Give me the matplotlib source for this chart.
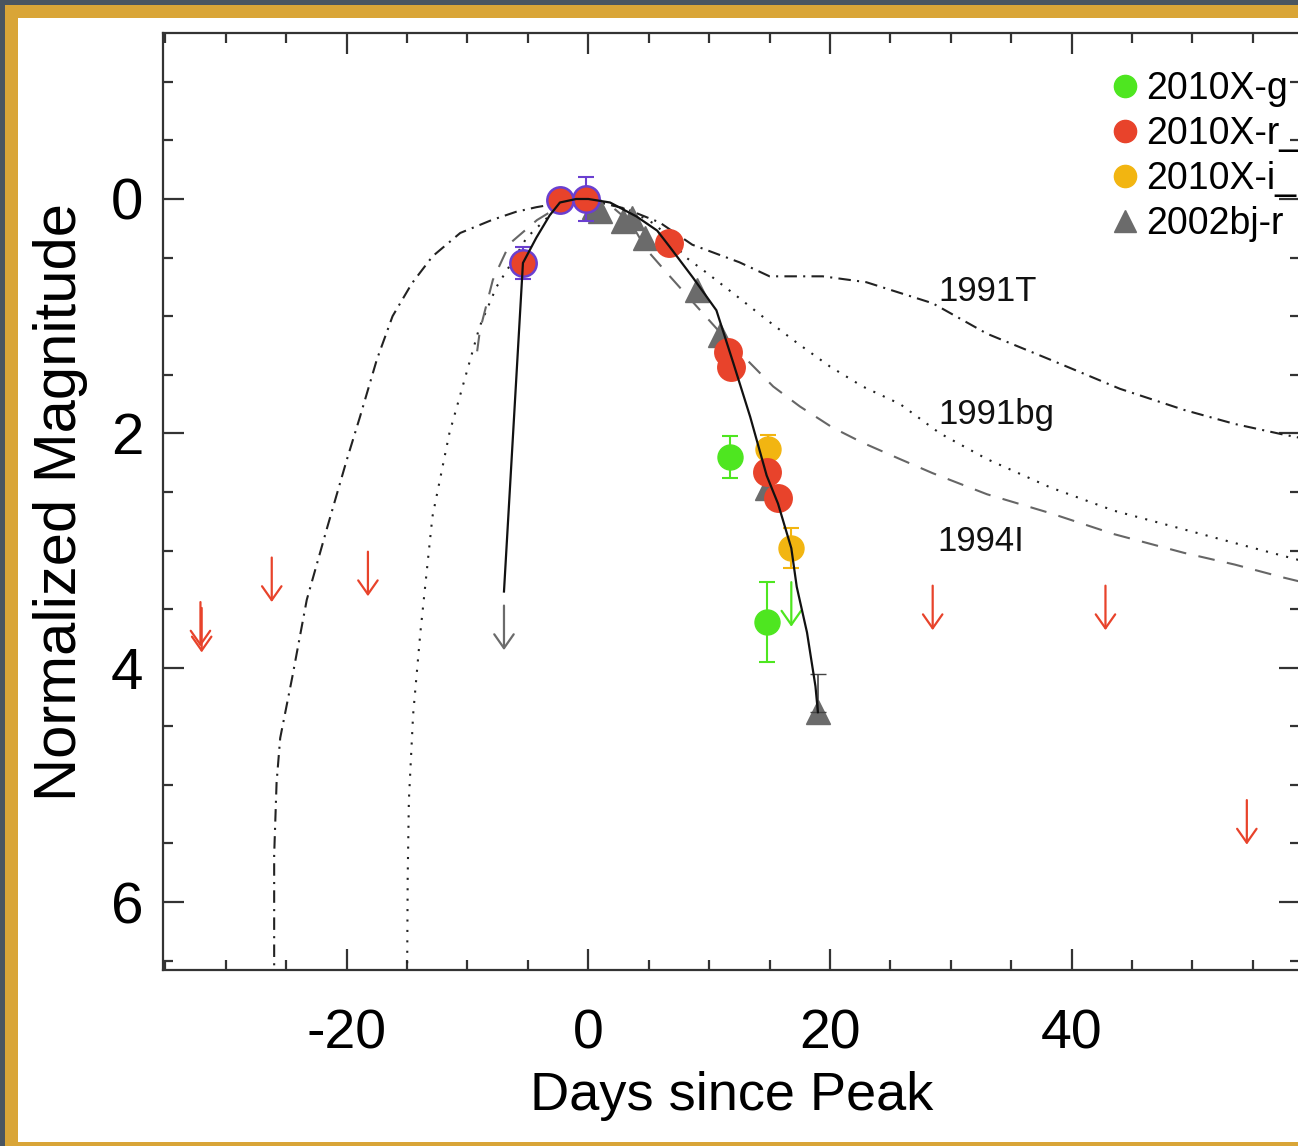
import matplotlib
matplotlib.use('Agg')
import matplotlib.pyplot as plt
from matplotlib.lines import Line2D
from matplotlib.patches import Rectangle
from matplotlib.ticker import MultipleLocator, FixedLocator

plt.rcParams['font.family'] = ['Liberation Sans', 'DejaVu Sans']
plt.rcParams['axes.unicode_minus'] = False

# ---------------- data ----------------
# 2010X g band
g_x = [11.7, 14.76]
g_y = [2.20, 3.61]
g_err = [0.18, 0.34]
# 2010X r band
r_x = [-5.41, -2.35, -0.2, 6.67, 11.55, 11.8, 14.76, 15.7]
r_y = [0.546, 0.01, 0.0, 0.375, 1.31, 1.43, 2.33, 2.55]
r_err = [0.14, 0.0, 0.19, 0.0, 0.0, 0.0, 0.0, 0.0]
r_edge = ['#6a3fd0', '#6a3fd0', '#6a3fd0', '#e8432b', '#e8432b', '#e8432b', '#e8432b', '#e8432b']
# 2010X i band
i_x = [14.85, 16.8]
i_y = [2.13, 2.98]
i_err = [0.12, 0.17]
# 2002bj r band
bj_x = [0.5, 1.0, 2.9, 3.6, 4.7, 9.0, 10.9, 14.8, 19.0]
bj_y = [0.07, 0.10, 0.19, 0.16, 0.33, 0.78, 1.16, 2.47, 4.38]
# upper limits (start magnitude of arrow)
r_lim_x = [-32.1, -32.0, -26.2, -18.24, 28.5, 42.8, 54.5]
r_lim_y = [3.44, 3.49, 3.06, 3.01, 3.30, 3.30, 5.13]
g_lim_x = [16.8]
g_lim_y = [3.27]
bj_lim_x = [-6.98]
bj_lim_y = [3.47]
# fitted 2002bj light curve (solid black)
fit_x = [-6.98, -5.41, -4.3, -3.2, -2.35, -1.0, 0.0, 1.8, 4.0, 5.7, 6.75, 8.65,
         10.6, 12.0, 13.4, 14.76, 15.7, 16.8, 17.25, 18.1, 18.8, 19.0]
fit_y = [3.35, 0.546, 0.33, 0.14, 0.03, 0.0, 0.0, 0.03, 0.15, 0.27, 0.41, 0.67,
         0.95, 1.40, 1.86, 2.36, 2.60, 2.98, 3.31, 3.70, 4.16, 4.38]
# template SNe
t91T_x = [-26.0, -26.0, -25.8, -25.5, -24.5, -23.3, -21.6, -20.0, -18.9, -17.5, -16.2,
          -14.6, -12.9, -10.6, -8.0, -6.0, -4.3, -1.5, 0.5, 3.0, 5.9, 8.6, 12.5, 15.0,
          19.4, 23.0, 28.5, 33.0, 38.2, 44.0, 49.3, 53.5, 57.5, 59.5]
t91T_y = [6.7, 5.6, 4.98, 4.60, 4.08, 3.42, 2.80, 2.23, 1.86, 1.37, 1.00,
          0.72, 0.49, 0.29, 0.18, 0.11, 0.07, 0.02, 0.02, 0.08, 0.20, 0.39, 0.54, 0.66,
          0.66, 0.71, 0.89, 1.15, 1.37, 1.62, 1.80, 1.92, 2.01, 2.05]
t91bg_x = [-15.0, -14.95, -14.85, -14.5, -13.9, -12.9, -11.5, -10.1, -9.0, -7.6, -6.2,
           -5.1, -3.0, -1.0, 1.0, 3.5, 5.6, 8.1, 9.8, 12.3, 14.75, 17.3, 20.0, 22.7,
           25.8, 29.1, 33.0, 38.2, 43.5, 49.3, 54.0, 59.5]
t91bg_y = [6.7, 5.8, 5.13, 4.40, 3.70, 2.71, 2.00, 1.49, 1.09, 0.75, 0.52,
           0.33, 0.12, 0.02, 0.02, 0.10, 0.22, 0.50, 0.63, 0.83, 1.03, 1.23, 1.43, 1.60,
           1.75, 2.00, 2.22, 2.46, 2.66, 2.82, 2.95, 3.10]
t94I_x = [-9.2, -8.97, -7.9, -6.5, -4.25, -2.5, -1.0, 0.5, 2.0, 3.5, 4.8, 6.75, 9.0,
          11.0, 13.1, 15.3, 17.5, 20.2, 22.7, 25.8, 28.5, 33.0, 38.2, 43.5, 49.3,
          53.5, 57.5, 59.5]
t94I_y = [1.30, 1.12, 0.69, 0.38, 0.18, 0.07, 0.02, 0.01, 0.07, 0.20, 0.43, 0.66, 0.92,
          1.15, 1.37, 1.60, 1.77, 1.95, 2.08, 2.22, 2.34, 2.52, 2.68, 2.86, 3.02,
          3.12, 3.23, 3.28]
template_names = ['1991T', '1991bg', '1994I']
template_label_x = [29.0, 29.0, 28.9]
template_label_y = [0.79, 1.84, 2.92]

legend_labels = ['2010X-g', '2010X-r_', '2010X-i_', '2002bj-r']
x_ticks = [-20, 0, 20, 40]
y_ticks = [0, 2, 4, 6]

# ---------------- colours ----------------
GREEN = '#4ee620'
RED = '#e8432b'
ORANGE = '#f2b511'
GRAY = '#6b6b6b'
GOLD = '#d9a537'
SLATE = '#4a5560'

W, H = 1298, 1146
fig = plt.figure(figsize=(W / 100, H / 100), dpi=100, facecolor=SLATE)

# frame
fig.patches.append(Rectangle((5 / W, 0), 1.0, (H - 5) / H, transform=fig.transFigure,
                             facecolor=GOLD, edgecolor='none', zorder=-3))
fig.patches.append(Rectangle((18 / W, 4 / H), 1.0, (H - 18 - 4) / H, transform=fig.transFigure,
                             facecolor='white', edgecolor='none', zorder=-2))

ax = fig.add_axes([163 / W, (H - 970) / H, 1137 / W, (970 - 33.3) / H])
ax.set_zorder(1)
ax.set_facecolor('white')
ax.set_xlim(-35.2, 58.9)
ax.set_ylim(6.58, -1.414)

# templates
lw = 1.5
ax.plot(t91T_x, t91T_y, color='#222222', lw=lw, ls=(0, (6, 3, 1, 3)), zorder=2)
ax.plot(t91bg_x, t91bg_y, color='#222222', lw=lw, ls=(0, (1, 4)), zorder=2)
ax.plot(t94I_x, t94I_y, color='#666666', lw=lw, ls=(0, (8, 6)), zorder=2)

for name, tx, ty in zip(template_names, template_label_x, template_label_y):
    ax.text(tx, ty, name, fontsize=25, ha='left', va='center', color='#111111', zorder=5)

# data points
ms = 19
ax.plot(bj_x, bj_y, ls='none', marker='^', ms=17, color=GRAY, mec=GRAY, zorder=3)
ax.errorbar([bj_x[-1]], [bj_y[-1]], yerr=[[0.33], [0.0]], fmt='none', ecolor='#444444',
            elinewidth=1.2, capsize=6, zorder=3)

for x, y, e, ec in zip(r_x, r_y, r_err, r_edge):
    if e > 0:
        ax.errorbar([x], [y], yerr=[e], fmt='none', ecolor=ec,
                    elinewidth=1.5, capsize=6, capthick=1.5, zorder=3)
    ax.plot([x], [y], ls='none', marker='o', ms=ms, color=RED, mec=ec, mew=1.8, zorder=3.5)

ax.errorbar(g_x, g_y, yerr=g_err, fmt='o', ms=18, color=GREEN, mec=GREEN, ecolor=GREEN,
            elinewidth=1.5, capsize=6, capthick=1.5, zorder=3)
ax.errorbar(i_x, i_y, yerr=i_err, fmt='o', ms=18, color=ORANGE, mec=ORANGE, ecolor=ORANGE,
            elinewidth=1.5, capsize=6, capthick=1.5, zorder=3)

# fit
ax.plot(fit_x, fit_y, color='#111111', lw=1.6, zorder=4)

# upper limits
L = 0.38
def uplim(xs, ys, color):
    for x, y in zip(xs, ys):
        ax.annotate('', xy=(x, y + L), xytext=(x, y),
                    arrowprops=dict(arrowstyle='->,head_length=0.4,head_width=0.28',
                                    color=color, lw=1.6,
                                    mutation_scale=25, shrinkA=0, shrinkB=0), zorder=3)
uplim(r_lim_x, r_lim_y, RED)
uplim(g_lim_x, g_lim_y, GREEN)
uplim(bj_lim_x, bj_lim_y, GRAY)

# axes styling
for sp in ax.spines.values():
    sp.set_color('#333333')
    sp.set_linewidth(1.6)
ax.xaxis.set_major_locator(FixedLocator(x_ticks))
ax.xaxis.set_minor_locator(MultipleLocator(5))
ax.yaxis.set_major_locator(FixedLocator(y_ticks))
ax.yaxis.set_minor_locator(MultipleLocator(0.5))
ax.tick_params(which='both', direction='in', top=True, right=True, color='#333333')
ax.tick_params(which='major', length=15, width=1.6)
ax.tick_params(which='minor', length=7, width=1.6)
ax.tick_params(axis='x', which='major', labelsize=40, pad=28)
ax.tick_params(axis='y', which='major', labelsize=42, pad=14)

ax.set_xlabel('Days since Peak', fontsize=39)
ax.set_ylabel('Normalized Magnitude', fontsize=43)
ax.xaxis.set_label_coords(0.5, -0.108)
ax.yaxis.set_label_coords(-0.066, 0.5)

# legend
handles = [
    Line2D([], [], ls='none', marker='o', ms=16, color=GREEN),
    Line2D([], [], ls='none', marker='o', ms=16, color=RED),
    Line2D([], [], ls='none', marker='o', ms=16, color=ORANGE),
    Line2D([], [], ls='none', marker='^', ms=16, color=GRAY),
]
ax.legend(handles, legend_labels, loc='upper left', bbox_to_anchor=(1112 / W, (H - 71) / H),
          bbox_transform=fig.transFigure, frameon=False, fontsize=27, borderpad=0,
          handlelength=0.7, handletextpad=0.2, labelspacing=0.24, borderaxespad=0)

fig.savefig('out.png', dpi=100, facecolor=SLATE)
